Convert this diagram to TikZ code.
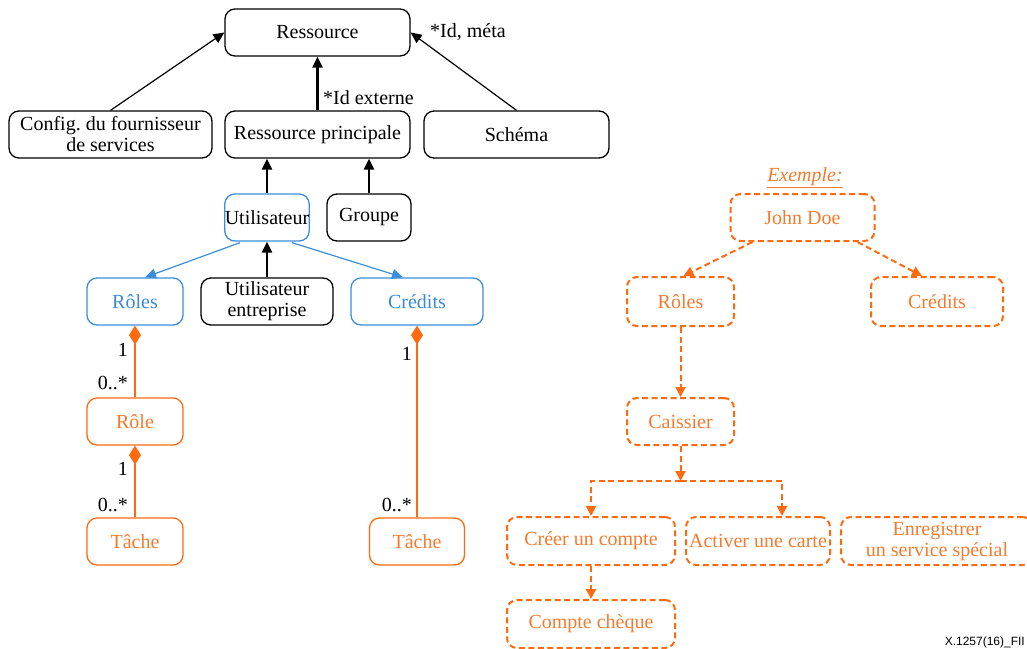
\documentclass[tikz,border=0pt]{standalone}
\usepackage{fontspec}
\setmainfont{Liberation Serif}
\newfontfamily\footfont{Liberation Sans}
\usetikzlibrary{arrows.meta,calc}

\definecolor{bline}{HTML}{3A8EDC}
\definecolor{btext}{HTML}{3A8AD6}
\definecolor{oline}{HTML}{FF6A0E}
\definecolor{otext}{HTML}{F47A2E}

\tikzset{
  box/.style={draw, rounded corners=10pt, line width=1.3pt, inner sep=0pt,
              minimum height=47pt, align=center},
  blkbox/.style={box, draw=black},
  bluebox/.style={box, draw=bline, text=btext},
  orabox/.style={box, draw=oline, text=otext},
  exbox/.style={box, draw=oline, text=otext, line width=2pt,
                dash pattern=on 6pt off 3.5pt},
  tip/.style={-{Triangle[length=11pt,width=10pt]}},
  thinarr/.style={tip, line width=1.2pt},
  thickarr/.style={tip, line width=2.6pt},
  bluearr/.style={tip, draw=bline, line width=1.2pt},
  comp/.style={{Diamond[length=19pt,width=12pt]}-, draw=oline, line width=1.3pt},
  exarr/.style={-{Triangle[length=10pt,width=10pt]}, draw=oline,
                line width=2pt, dash pattern=on 6pt off 3.5pt},
  mult/.style={inner sep=0pt, anchor=east}
}

\begin{document}
\begin{tikzpicture}[x=1pt, y=-1pt, font=\fontsize{20}{21}\selectfont]
\useasboundingbox (0,0) rectangle (1027,648);

% ---------- model (left) ----------
\node[blkbox, minimum width=185pt] (ress) at (317.5,32.5) {Ressource};
\node[blkbox, minimum width=203pt] (cfg) at (110.5,134.5)
     {Config.\ du fournisseur\\de services};
\node[blkbox, minimum width=185pt] (rp) at (317.5,134.5) {Ressource principale};
\node[blkbox, minimum width=185pt] (schema) at (516.5,134.5) {Schéma};
\node[bluebox, minimum width=84pt, text=black] (util) at (267,217.5) {Utilisateur};
\node[blkbox, minimum width=84pt] (grp) at (369,217.5) {Groupe};
\node[bluebox, minimum width=96pt] (roles) at (135,301.5) {Rôles};
\node[blkbox, minimum width=132pt] (ue) at (267,301.5) {Utilisateur\\entreprise};
\node[bluebox, minimum width=132pt] (cred) at (417,301.5) {Crédits};
\node[orabox, minimum width=96pt] (role) at (135,421.5) {Rôle};
\node[orabox, minimum width=96pt] (tache) at (135,541.5) {Tâche};
\node[orabox, minimum width=95pt] (tacheb) at (417,541.5) {Tâche};

\draw[thinarr] (cfg.north) -- (ress.west);
\draw[thinarr] (schema.north) -- (ress.east);
\draw[thickarr] (rp.north) -- (ress.south);
\draw[thickarr] (util.north) -- (util.north |- rp.south);
\draw[thickarr] (grp.north) -- (grp.north |- rp.south);
\draw[thickarr] (ue.north) -- (util.south);
\draw[bluearr] ($(util.south)+(-27,1)$) -- ($(roles.north)+(10,0)$);
\draw[bluearr] ($(util.south)+(25,1)$) -- ($(cred.north)+(-14,0)$);

\draw[comp] (roles.south) -- (role.north);
\draw[comp] (role.south) -- (tache.north);
\draw[comp] (cred.south) -- (tacheb.north);

\node[anchor=west, inner sep=0pt] at (430,32) {*Id, méta};
\node[anchor=west, inner sep=0pt] at (323,98) {*Id externe};
\node[mult] at (128,350) {1};
\node[mult] at (128,383) {0..*};
\node[mult] at (128,469) {1};
\node[mult] at (128,505) {0..*};
\node[mult] at (412,354) {1};
\node[mult] at (412,505) {0..*};

% ---------- example (right) ----------
\node[text=otext, inner sep=0pt] (exlbl) at (805,178) {\underline{\textit{Exemple:}}};
\node[exbox, minimum width=144pt] (john) at (802.5,217.5) {John Doe};
\node[exbox, minimum width=107pt, minimum height=49pt] (eroles) at (680.5,301.5) {Rôles};
\node[exbox, minimum width=132pt, minimum height=49pt] (ecred) at (937,301.5) {Crédits};
\node[exbox, minimum width=107pt] (cais) at (680.5,421.5) {Caissier};
\node[exbox, minimum width=168pt, minimum height=48pt] (creer) at (591,541) {Créer un compte};
\node[exbox, minimum width=144pt, minimum height=48pt] (activ) at (758,541) {Activer une carte};
\node[exbox, minimum width=192pt, minimum height=48pt] (enreg) at (937,541)
     {Enregistrer\\un service spécial};
\node[exbox, minimum width=168pt, minimum height=48pt] (cheque) at (591,624) {Compte chèque};

\draw[exarr] ($(john.south)+(-50,0)$) -- ($(eroles.north)+(3,0)$);
\draw[exarr] ($(john.south)+(55,0)$) -- ($(ecred.north)+(-15,0)$);
\draw[exarr] (eroles.south) -- (cais.north);
\coordinate (fork) at (680.5,481);
\draw[exarr] (cais.south) -- (fork);
\draw[exarr] (fork) -| (creer.north);
\draw[exarr] (fork) -| ($(activ.north)+(24,0)$);
\draw[exarr] (creer.south) -- (cheque.north);

\node[font=\footfont\fontsize{12}{14}\selectfont, anchor=east, inner sep=0pt]
     (fig) at (1025,642) {X.1257(16)\_FII};
\end{tikzpicture}
\end{document}
